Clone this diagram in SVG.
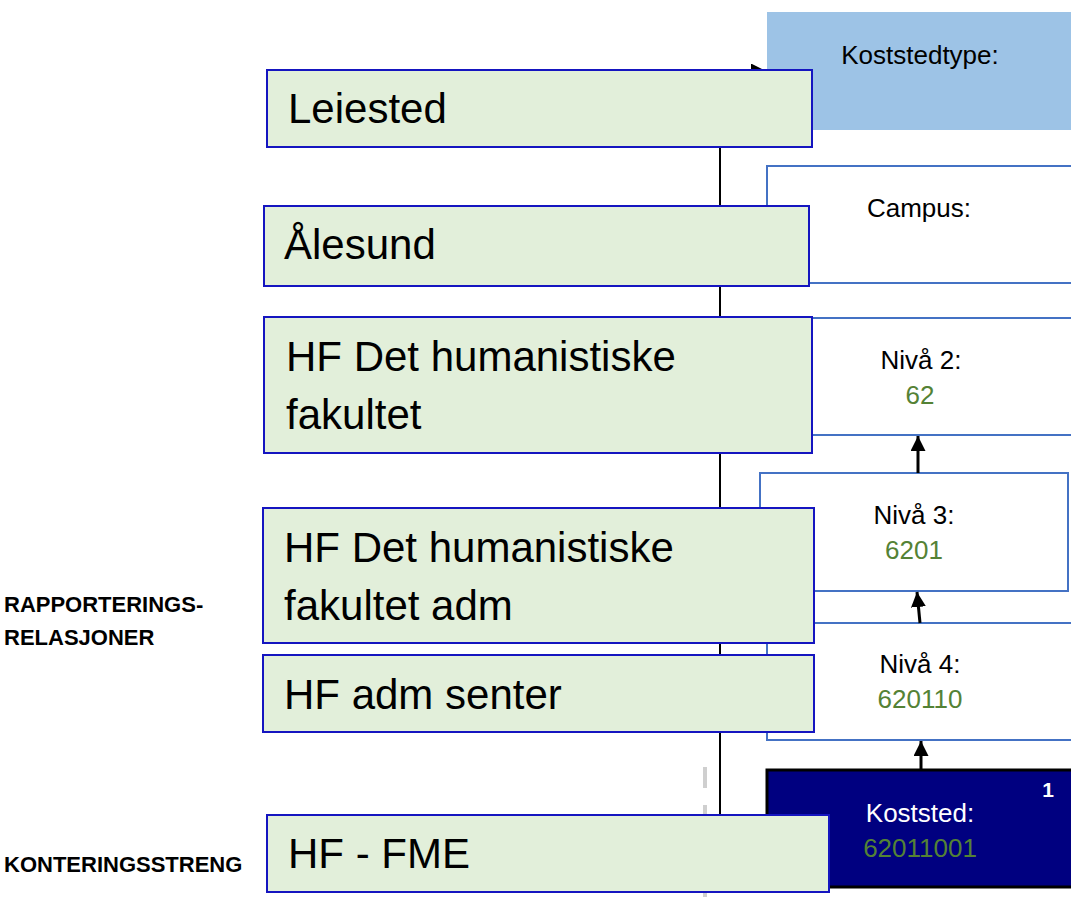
<svg xmlns="http://www.w3.org/2000/svg" width="1071" height="897" viewBox="0 0 1071 897">
<defs>
<style>
.lbox{fill:#E2EFDA;stroke:#1515C0;stroke-width:2}
.rbox{fill:#FFFFFF;stroke:#4472C4;stroke-width:2}
.big{font-family:"Liberation Sans",Arial,sans-serif;font-size:42px;fill:#000}
.sm{font-family:"Liberation Sans",Arial,sans-serif;font-size:26px;fill:#000;text-anchor:middle}
.num{font-family:"Liberation Sans",Arial,sans-serif;font-size:26px;fill:#548235;text-anchor:middle}
.side{font-family:"Liberation Sans",Arial,sans-serif;font-size:22px;font-weight:bold;fill:#000}
.arr{stroke:#000;stroke-width:3;fill:none;marker-end:url(#ah)}
</style>
<marker id="ah" viewBox="0 0 10 10" refX="10" refY="5" markerWidth="15" markerHeight="15" markerUnits="userSpaceOnUse" orient="auto">
<path d="M0,0 L10,5 L0,10 z" fill="#000"/>
</marker>
</defs>
<rect width="1071" height="897" fill="#FFFFFF"/>

<g id="koststedtype">
<rect x="767" y="12" width="320" height="118" fill="#9DC3E6"/>
<text class="sm" x="920" y="64">Koststedtype:</text>
</g>
<g id="campus">
<rect class="rbox" x="767" y="166" width="320" height="117"/>
<text class="sm" x="919" y="217">Campus:</text>
</g>
<g id="niva2">
<rect class="rbox" x="767" y="318" width="320" height="117"/>
<text class="sm" x="921" y="369">Nivå 2:</text>
<text class="num" x="920" y="404">62</text>
</g>
<g id="niva3">
<rect class="rbox" x="760" y="473" width="308" height="118"/>
<text class="sm" x="914" y="524">Nivå 3:</text>
<text class="num" x="914" y="559">6201</text>
</g>
<g id="niva4">
<rect class="rbox" x="767" y="623" width="320" height="117"/>
<text class="sm" x="920" y="673">Nivå 4:</text>
<text class="num" x="920" y="708">620110</text>
</g>
<g id="koststed">
<rect x="767" y="770" width="320" height="117" fill="#000080" stroke="#000" stroke-width="3"/>
<text class="sm" x="920" y="822" style="fill:#FFFFFF">Koststed:</text>
<text class="num" x="920" y="857">62011001</text>
<text x="1048" y="797" font-family="Liberation Sans, Arial, sans-serif" font-size="21" font-weight="bold" fill="#FFFFFF" text-anchor="middle">1</text>
</g>

<g id="connectors">
<path class="arr" d="M918,473 L918,436"/>
<path class="arr" d="M920,623 L917,592"/>
<path class="arr" d="M921,770 L921,741"/>
<path d="M720,815 L720,71 L766,71" stroke="#000" stroke-width="2" fill="none" marker-end="url(#ah)"/>
<line x1="705" y1="767" x2="705" y2="897" stroke="#CFCFCF" stroke-width="4" stroke-dasharray="21 17"/>
</g>

<g id="leiested">
<rect class="lbox" x="267" y="70" width="545" height="77"/>
<text class="big" x="288" y="123">Leiested</text>
</g>
<g id="alesund">
<rect class="lbox" x="264" y="206" width="545" height="80"/>
<text class="big" x="284" y="259">Ålesund</text>
</g>
<g id="hf-fakultet">
<rect class="lbox" x="264" y="317" width="548" height="136"/>
<text class="big" x="286" y="371">HF Det humanistiske</text>
<text class="big" x="286" y="429">fakultet</text>
</g>
<g id="hf-fakultet-adm">
<rect class="lbox" x="263" y="508" width="551" height="135"/>
<text class="big" x="284" y="562">HF Det humanistiske</text>
<text class="big" x="284" y="620">fakultet adm</text>
</g>
<g id="hf-adm-senter">
<rect class="lbox" x="263" y="655" width="551" height="77"/>
<text class="big" x="284" y="709">HF adm senter</text>
</g>
<g id="hf-fme">
<rect class="lbox" x="267" y="815" width="562" height="77"/>
<text class="big" x="288" y="868">HF - FME</text>
</g>

<g id="labels">
<text class="side" x="4" y="612">RAPPORTERINGS-</text>
<text class="side" x="4" y="645">RELASJONER</text>
<text class="side" x="4" y="872">KONTERINGSSTRENG</text>
</g>
</svg>
